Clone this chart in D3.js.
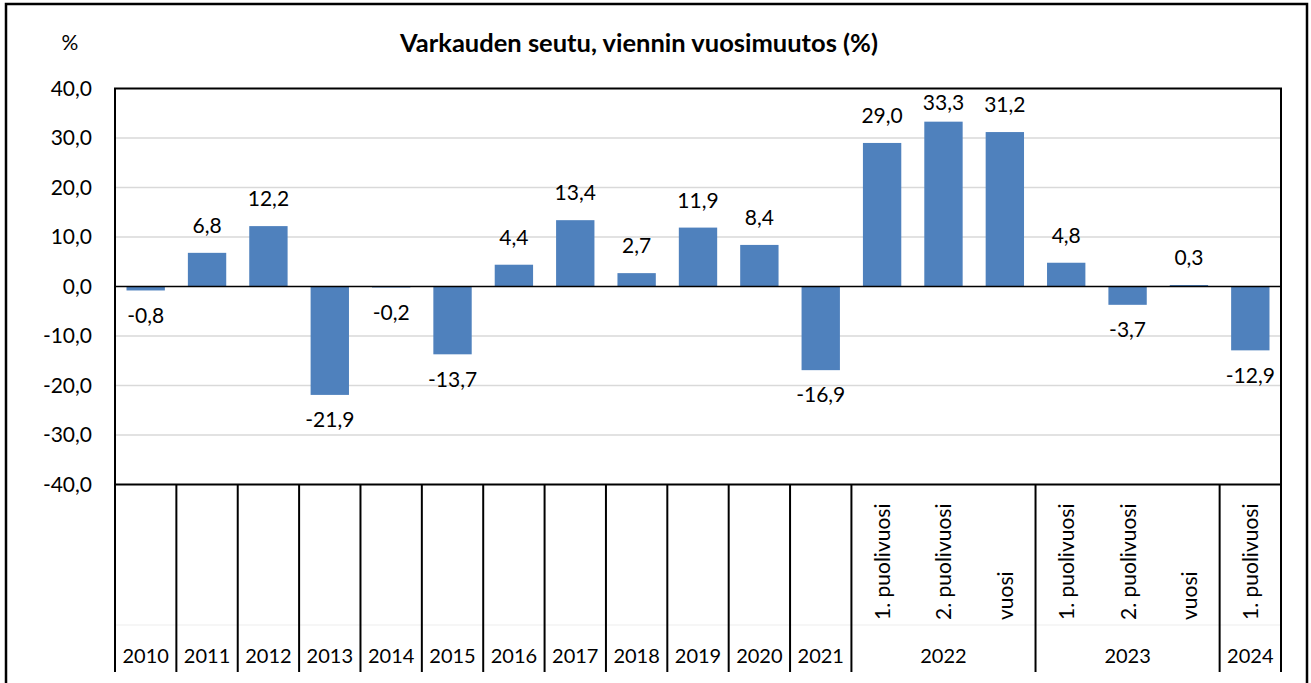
<!DOCTYPE html>
<html>
<head>
<meta charset="utf-8">
<script src="https://cdn.jsdelivr.net/npm/d3@7"></script>
<style>
	body { margin: 0; background: #fff; }
	svg text { font-family: Lato, "Open Sans", sans-serif; fill: #000; }
</style>
</head>
<body>
<div id="graph"></div>
<script>
// chart values
var years = ["2010", "2011", "2012", "2013", "2014", "2015", "2016", "2017", "2018", "2019", "2020", "2021",
	"2022", "2022", "2022", "2023", "2023", "2023", "2024"];
var periods = ["", "", "", "", "", "", "", "", "", "", "", "",
	"1. puolivuosi", "2. puolivuosi", "vuosi", "1. puolivuosi", "2. puolivuosi", "vuosi", "1. puolivuosi"];
var values = [-0.8, 6.8, 12.2, -21.9, -0.2, -13.7, 4.4, 13.4, 2.7, 11.9, 8.4, -16.9,
	29.0, 33.3, 31.2, 4.8, -3.7, 0.3, -12.9];
var yTicks = [-40, -30, -20, -10, 0, 10, 20, 30, 40];
var title = "Varkauden seutu, viennin vuosimuutos (%)";

(function() {
	var graph = {
		width: 1311,
		height: 683,
		left: 115,
		right: 1281,
		top: 88.5,
		bottom: 484.5,
		axisBottom: 672
	};

	// Finnish style numbers: decimal comma, plain hyphen as minus
	var locale = d3.formatLocale({ decimal: ",", thousands: " ", grouping: [3], currency: ["", "€"], minus: "-" });
	var fmt = locale.format(".1f");

	var svg = d3.select("#graph").append("svg")
		.attr("width", graph.width)
		.attr("height", graph.height);

	// outer frame
	svg.append("rect")
		.attr("x", 6).attr("y", 4)
		.attr("width", 1301).attr("height", 700)
		.attr("fill", "none")
		.attr("stroke", "#000")
		.attr("stroke-width", 2.5);

	var idx = d3.range(values.length);

	var x = d3.scaleBand()
		.domain(idx)
		.range([graph.left, graph.right])
		.paddingInner(0.375)
		.paddingOuter(0.1875);

	var y = d3.scaleLinear()
		.domain([-40, 40])
		.range([graph.bottom, graph.top]);

	var step = x.step();
	var edge = function(i) { return x(i) - (step - x.bandwidth()) / 2; };

	// gridlines
	svg.append("g").selectAll("line")
		.data(yTicks.filter(function(t) { return t !== 0 && t !== 40 && t !== -40; }))
		.enter().append("line")
		.attr("x1", graph.left).attr("x2", graph.right)
		.attr("y1", function(d) { return y(d); })
		.attr("y2", function(d) { return y(d); })
		.attr("stroke", "#d9d9d9")
		.attr("stroke-width", 1.5);

	// y axis labels
	var yAxis = d3.axisLeft(y)
		.tickValues(yTicks)
		.tickSize(0)
		.tickPadding(23)
		.tickFormat(fmt);

	var ya = svg.append("g")
		.attr("transform", "translate(" + graph.left + ",0)")
		.call(yAxis);
	ya.select(".domain").remove();
	ya.selectAll("text")
		.attr("font-size", 21)
		.attr("font-family", "Lato, sans-serif")
		.attr("fill", "#000");

	// bars
	svg.append("g").selectAll("rect")
		.data(idx)
		.enter().append("rect")
		.attr("x", function(i) { return x(i); })
		.attr("width", x.bandwidth())
		.attr("y", function(i) { return Math.min(y(values[i]), y(0)); })
		.attr("height", function(i) { return Math.abs(y(values[i]) - y(0)); })
		.attr("fill", "#4f81bd");

	// data labels, kept inside the plot area like the original
	svg.append("g").selectAll("text")
		.data(idx)
		.enter().append("text")
		.attr("x", function(i) { return x(i) + x.bandwidth() / 2; })
		.attr("y", function(i) {
			return values[i] >= 0 ? Math.max(y(values[i]) - 25, graph.top + 16) : y(values[i]) + 27;
		})
		.attr("text-anchor", "middle")
		.attr("dominant-baseline", "middle")
		.attr("font-size", 21)
		.text(function(i) { return fmt(values[i]); });

	// zero line
	svg.append("line")
		.attr("x1", graph.left).attr("x2", graph.right)
		.attr("y1", y(0)).attr("y2", y(0))
		.attr("stroke", "#000")
		.attr("stroke-width", 1.5);

	// plot area frame
	svg.append("rect")
		.attr("x", graph.left).attr("y", graph.top)
		.attr("width", graph.right - graph.left)
		.attr("height", graph.bottom - graph.top)
		.attr("fill", "none")
		.attr("stroke", "#000")
		.attr("stroke-width", 2);

	// category axis: groups of consecutive equal years
	var groups = [];
	idx.forEach(function(i) {
		var g = groups[groups.length - 1];
		if (g && g.name === years[i]) { g.end = i; }
		else { groups.push({ name: years[i], start: i, end: i }); }
	});

	var cat = svg.append("g");

	cat.append("line")
		.attr("x1", graph.left).attr("x2", graph.right)
		.attr("y1", 625).attr("y2", 625)
		.attr("stroke", "#ededed")
		.attr("stroke-width", 1);

	var bounds = groups.map(function(g) { return edge(g.start); });
	bounds.push(graph.right);

	cat.selectAll("line.sep")
		.data(bounds)
		.enter().append("line")
		.attr("class", "sep")
		.attr("x1", function(d) { return d; })
		.attr("x2", function(d) { return d; })
		.attr("y1", graph.bottom)
		.attr("y2", graph.axisBottom)
		.attr("stroke", "#000")
		.attr("stroke-width", 2);

	cat.selectAll("text.year")
		.data(groups)
		.enter().append("text")
		.attr("class", "year")
		.attr("x", function(g) { return (edge(g.start) + edge(g.end) + step) / 2; })
		.attr("y", 658)
		.attr("text-anchor", "middle")
		.attr("dominant-baseline", "middle")
		.attr("font-size", 20)
		.text(function(g) { return g.name; });

	cat.selectAll("text.period")
		.data(idx.filter(function(i) { return periods[i] !== ""; }))
		.enter().append("text")
		.attr("class", "period")
		.attr("transform", function(i) {
			return "translate(" + (x(i) + x.bandwidth() / 2 + 8) + ",620) rotate(-90)";
		})
		.attr("text-anchor", "start")
		.attr("font-size", 21)
		.text(function(i) { return periods[i]; });

	// titles
	svg.append("text")
		.attr("x", 639).attr("y", 45)
		.attr("text-anchor", "middle")
		.attr("dominant-baseline", "middle")
		.attr("font-size", 25.5)
		.attr("font-weight", "bold")
		.text(title);

	svg.append("text")
		.attr("x", 70).attr("y", 45)
		.attr("text-anchor", "middle")
		.attr("dominant-baseline", "middle")
		.attr("font-size", 21)
		.text("%");
})();
</script>
</body>
</html>
